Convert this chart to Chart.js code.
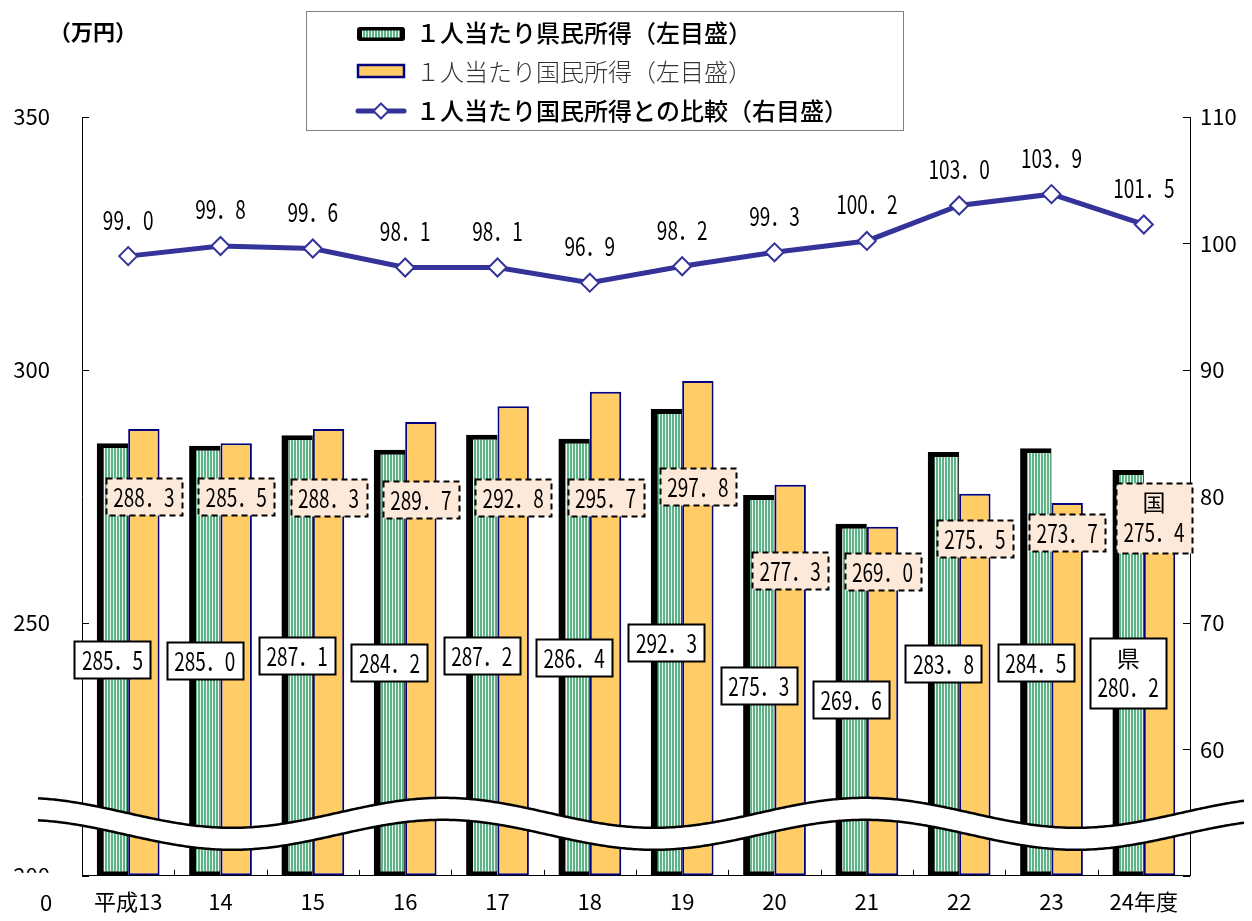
<!DOCTYPE html>
<html lang="ja">
<head>
<meta charset="utf-8">
<title>1人当たり県民所得</title>
<script src="https://cdn.jsdelivr.net/npm/chart.js@4.4.1/dist/chart.umd.min.js"></script>
<style>
  html, body { margin: 0; padding: 0; background: #fff; }
  #wrap { width: 1252px; height: 921px; position: relative; }
</style>
</head>
<body>
<div id="wrap"><canvas id="c" width="1252" height="921"></canvas></div>
<script>
// ---- data ----
const years = ['平成13', '14', '15', '16', '17', '18', '19', '20', '21', '22', '23', '24年度'];
const prefIncome = [285.5, 285.0, 287.1, 284.2, 287.2, 286.4, 292.3, 275.3, 269.6, 283.8, 284.5, 280.2];
const nationalIncome = [288.3, 285.5, 288.3, 289.7, 292.8, 295.7, 297.8, 277.3, 269.0, 275.5, 273.7, 275.4];
const ratioToNation = [99.0, 99.8, 99.6, 98.1, 98.1, 96.9, 98.2, 99.3, 100.2, 103.0, 103.9, 101.5];
const leftTicks = [200, 250, 300, 350];
const rightTicks = [50, 60, 70, 80, 90, 100, 110];
// level (left-axis units) at which each national-income callout is centred
const nationalCalloutLevel = [274.9, 274.9, 274.7, 274.3, 274.7, 274.7, 277.0, 260.3, 260.1, 266.6, 267.8, 270.8];

const seriesNames = [
  '１人当たり県民所得（左目盛）',
  '１人当たり国民所得（左目盛）',
  '１人当たり国民所得との比較（右目盛）'
];
const unitLabel = '（万円）';
const prefMark = '県';
const nationMark = '国';

// ---- styles ----
const JP = '"Noto Sans CJK JP", "Noto Sans", sans-serif';
const GREEN = '#5db386';
const GREEN_LIGHT = '#eaf6ef';
const ORANGE = '#ffcc66';
const NAVY = '#000080';
const LINE = '#333399';
const PEACH = '#fde9d9';
const VALUE_SIZE = 25;
const VALUE_SQUEEZE = 0.76;

const canvas = document.getElementById('c');
const ctx0 = canvas.getContext('2d');

function stripePattern(ctx) {
  const c = document.createElement('canvas');
  c.width = 3; c.height = 4;
  const g = c.getContext('2d');
  g.fillStyle = GREEN_LIGHT; g.fillRect(0, 0, 3, 4);
  g.fillStyle = GREEN; g.fillRect(0, 0, 2, 4);
  return ctx.createPattern(c, 'repeat');
}
const stripes = stripePattern(ctx0);

// value text with a full-width decimal point, as in the printed tables
const fmt = v => v.toFixed(1).replace('.', '．');

// condensed text: drawn with a horizontal squeeze
function squeezed(ctx, text, x, y, size, sx, weight) {
  ctx.save();
  ctx.translate(x, y);
  ctx.scale(sx, 1);
  ctx.font = `${weight || 400} ${size}px ${JP}`;
  ctx.fillStyle = '#000';
  ctx.textAlign = 'center';
  ctx.textBaseline = 'middle';
  ctx.fillText(text, 0, 0);
  ctx.restore();
}

function callout(ctx, cx, cy, lines, dashed) {
  const w = 76;
  const h = lines.length > 1 ? 70 : 37;
  const x = Math.round(cx - w / 2) + 0.5;
  const y = Math.round(cy - h / 2) + 0.5;
  ctx.save();
  ctx.fillStyle = dashed ? PEACH : '#fff';
  ctx.fillRect(x, y, w, h);
  ctx.strokeStyle = '#000';
  ctx.lineWidth = 2;
  if (dashed) ctx.setLineDash([6, 4]);
  ctx.strokeRect(x, y, w, h);
  ctx.restore();
  if (lines.length > 1) {
    squeezed(ctx, lines[0], cx, cy - 15, 23, 1, 400);
    squeezed(ctx, lines[1], cx, cy + 15, VALUE_SIZE, VALUE_SQUEEZE, 400);
  } else {
    squeezed(ctx, lines[0], cx, cy + 1, VALUE_SIZE, VALUE_SQUEEZE, 400);
  }
}

const decor = {
  id: 'decor',
  afterDraw(chart) {
    const { ctx, chartArea: ca, scales } = chart;
    const yL = scales.y, yR = scales.y2, xs = scales.x;

    // inner tick marks
    ctx.save();
    ctx.strokeStyle = '#000';
    ctx.lineWidth = 1;
    ctx.beginPath();
    leftTicks.forEach(v => {
      const py = Math.round(yL.getPixelForValue(v)) + 0.5;
      ctx.moveTo(ca.left, py); ctx.lineTo(ca.left + 7, py);
    });
    rightTicks.forEach(v => {
      const py = Math.round(yR.getPixelForValue(v)) + 0.5;
      ctx.moveTo(ca.right - 7, py); ctx.lineTo(ca.right, py);
    });
    for (let i = 1; i < years.length; i++) {
      const px = Math.round(xs.getPixelForValue(i - 0.5)) + 0.5;
      ctx.moveTo(px, ca.bottom); ctx.lineTo(px, ca.bottom - 6);
    }
    ctx.stroke();
    ctx.restore();

    // axis-break band across the lower part of the plot
    const x0 = ca.left - 44, x1 = ca.right + 55;
    const mid = ca.bottom - 52, amp = 15, period = 422, trough = ca.left + 150, half = 11;
    const cy = x => mid + amp * Math.cos(2 * Math.PI * (x - trough) / period);
    ctx.save();
    ctx.beginPath();
    for (let x = x0; x <= x1; x += 2) ctx.lineTo(x, cy(x) - half);
    for (let x = x1; x >= x0; x -= 2) ctx.lineTo(x, cy(x) + half);
    ctx.closePath();
    ctx.fillStyle = '#fff';
    ctx.fill();
    ctx.strokeStyle = '#000';
    ctx.lineWidth = 2.5;
    ctx.beginPath();
    for (let x = x0; x <= x1; x += 2) ctx.lineTo(x, cy(x) - half);
    ctx.stroke();
    ctx.beginPath();
    for (let x = x0; x <= x1; x += 2) ctx.lineTo(x, cy(x) + half);
    ctx.stroke();
    ctx.restore();

    // the lowest left label is mostly masked; a plain "0" sits below it
    ctx.save();
    ctx.fillStyle = '#fff';
    ctx.fillRect(0, ca.bottom - 3, ca.left - 2, 18);
    ctx.fillStyle = '#000';
    ctx.font = `400 22px ${JP}`;
    ctx.textAlign = 'center';
    ctx.textBaseline = 'middle';
    ctx.fillText('0', 46, ca.bottom + 27);
    ctx.restore();

    // callouts for the bars
    const mPref = chart.getDatasetMeta(0);
    const mNat = chart.getDatasetMeta(1);
    const last = years.length - 1;
    prefIncome.forEach((v, i) => {
      const bar = mPref.data[i];
      const cyv = yL.getPixelForValue((v + leftTicks[0]) / 2);
      const lines = i === last ? [prefMark, fmt(v)] : [fmt(v)];
      callout(ctx, bar.x, cyv, lines, false);
    });
    nationalIncome.forEach((v, i) => {
      const bar = mNat.data[i];
      const cyv = yL.getPixelForValue(nationalCalloutLevel[i]);
      const lines = i === last ? [nationMark, fmt(v)] : [fmt(v)];
      const cx = Math.min(bar.x, ca.right - 36);
      callout(ctx, cx, cyv, lines, true);
    });

    // values above the ratio line
    const mLine = chart.getDatasetMeta(2);
    ratioToNation.forEach((v, i) => {
      const p = mLine.data[i];
      squeezed(ctx, fmt(v), p.x, p.y - 36, VALUE_SIZE, VALUE_SQUEEZE, 400);
    });

    // unit caption
    ctx.save();
    ctx.fillStyle = '#000';
    ctx.font = `700 22px ${JP}`;
    ctx.textAlign = 'center';
    ctx.textBaseline = 'middle';
    ctx.fillText(unitLabel, 93, 32);
    ctx.restore();

    // legend
    ctx.save();
    ctx.fillStyle = '#fff';
    ctx.fillRect(306.5, 11.5, 597, 119);
    ctx.strokeStyle = '#808080';
    ctx.lineWidth = 1;
    ctx.strokeRect(306.5, 11.5, 597, 119);

    // swatch 1: striped bar with heavy black outline
    ctx.fillStyle = '#000';
    ctx.beginPath();
    ctx.roundRect(357, 27, 48, 14, 3);
    ctx.fill();
    ctx.fillStyle = stripes;
    ctx.fillRect(362, 30.5, 38, 7);
    // swatch 2: orange bar
    ctx.fillStyle = ORANGE;
    ctx.fillRect(358, 65, 46, 12);
    ctx.strokeStyle = NAVY;
    ctx.lineWidth = 2.5;
    ctx.strokeRect(358, 65, 46, 12);
    // swatch 3: line with diamond
    ctx.strokeStyle = LINE;
    ctx.lineWidth = 5;
    ctx.lineCap = 'round';
    ctx.beginPath();
    ctx.moveTo(358, 111); ctx.lineTo(404, 111);
    ctx.stroke();
    ctx.lineCap = 'butt';
    ctx.beginPath();
    ctx.moveTo(381, 103.5); ctx.lineTo(388.5, 111); ctx.lineTo(381, 118.5); ctx.lineTo(373.5, 111);
    ctx.closePath();
    ctx.fillStyle = '#fff';
    ctx.fill();
    ctx.lineWidth = 2;
    ctx.stroke();

    ctx.textAlign = 'left';
    ctx.textBaseline = 'middle';
    ctx.font = `500 24px ${JP}`;
    ctx.fillStyle = '#000';
    ctx.fillText(seriesNames[0], 416, 33);
    ctx.font = `300 24px ${JP}`;
    ctx.fillStyle = '#333';
    ctx.fillText(seriesNames[1], 416, 72);
    ctx.font = `500 24px ${JP}`;
    ctx.fillStyle = '#000';
    ctx.fillText(seriesNames[2], 416, 111);
    ctx.restore();
  }
};

const tickFont = { family: JP, size: 22, weight: 400 };

new Chart(canvas, {
  data: {
    labels: years,
    datasets: [
      {
        type: 'bar',
        label: seriesNames[0],
        data: prefIncome,
        yAxisID: 'y',
        base: leftTicks[0],
        backgroundColor: stripes,
        borderColor: '#000',
        borderWidth: { left: 7, top: 5, right: 1, bottom: 4 },
        borderSkipped: false,
        categoryPercentage: 0.68,
        barPercentage: 1,
        order: 1
      },
      {
        type: 'bar',
        label: seriesNames[1],
        data: nationalIncome,
        yAxisID: 'y',
        base: leftTicks[0],
        backgroundColor: ORANGE,
        borderColor: NAVY,
        borderWidth: 2,
        borderSkipped: false,
        categoryPercentage: 0.68,
        barPercentage: 1,
        order: 1
      },
      {
        type: 'line',
        label: seriesNames[2],
        data: ratioToNation,
        yAxisID: 'y2',
        borderColor: LINE,
        borderWidth: 5,
        tension: 0,
        pointStyle: 'rectRot',
        pointRadius: 9,
        pointBackgroundColor: '#fff',
        pointBorderColor: LINE,
        pointBorderWidth: 2,
        order: 0
      }
    ]
  },
  options: {
    responsive: false,
    animation: false,
    devicePixelRatio: 1,
    layout: { padding: { top: 117, left: 0, right: 0, bottom: 0 } },
    plugins: { legend: { display: false }, tooltip: { enabled: false } },
    scales: {
      x: {
        grid: { drawOnChartArea: false, drawTicks: false },
        border: { display: true, color: '#000', width: 1 },
        ticks: { font: tickFont, color: '#000', padding: 13, maxRotation: 0, autoSkip: false },
        afterFit(s) { s.height = 41; }
      },
      y: {
        position: 'left',
        min: leftTicks[0],
        max: leftTicks[leftTicks.length - 1],
        afterBuildTicks(s) { s.ticks = leftTicks.map(v => ({ value: v })); },
        grid: { drawOnChartArea: false, drawTicks: false },
        border: { display: true, color: '#000', width: 1 },
        ticks: { font: tickFont, color: '#000', padding: 32 },
        afterFit(s) { s.width = 82; }
      },
      y2: {
        position: 'right',
        min: rightTicks[0],
        max: rightTicks[rightTicks.length - 1],
        afterBuildTicks(s) { s.ticks = rightTicks.map(v => ({ value: v })); },
        grid: { drawOnChartArea: false, drawTicks: false },
        border: { display: true, color: '#000', width: 1 },
        ticks: {
          font: tickFont, color: '#000', padding: 10,
          callback: v => (v === rightTicks[0] ? '' : String(v))
        },
        afterFit(s) { s.width = 62; }
      }
    }
  },
  plugins: [decor]
});
</script>
</body>
</html>
